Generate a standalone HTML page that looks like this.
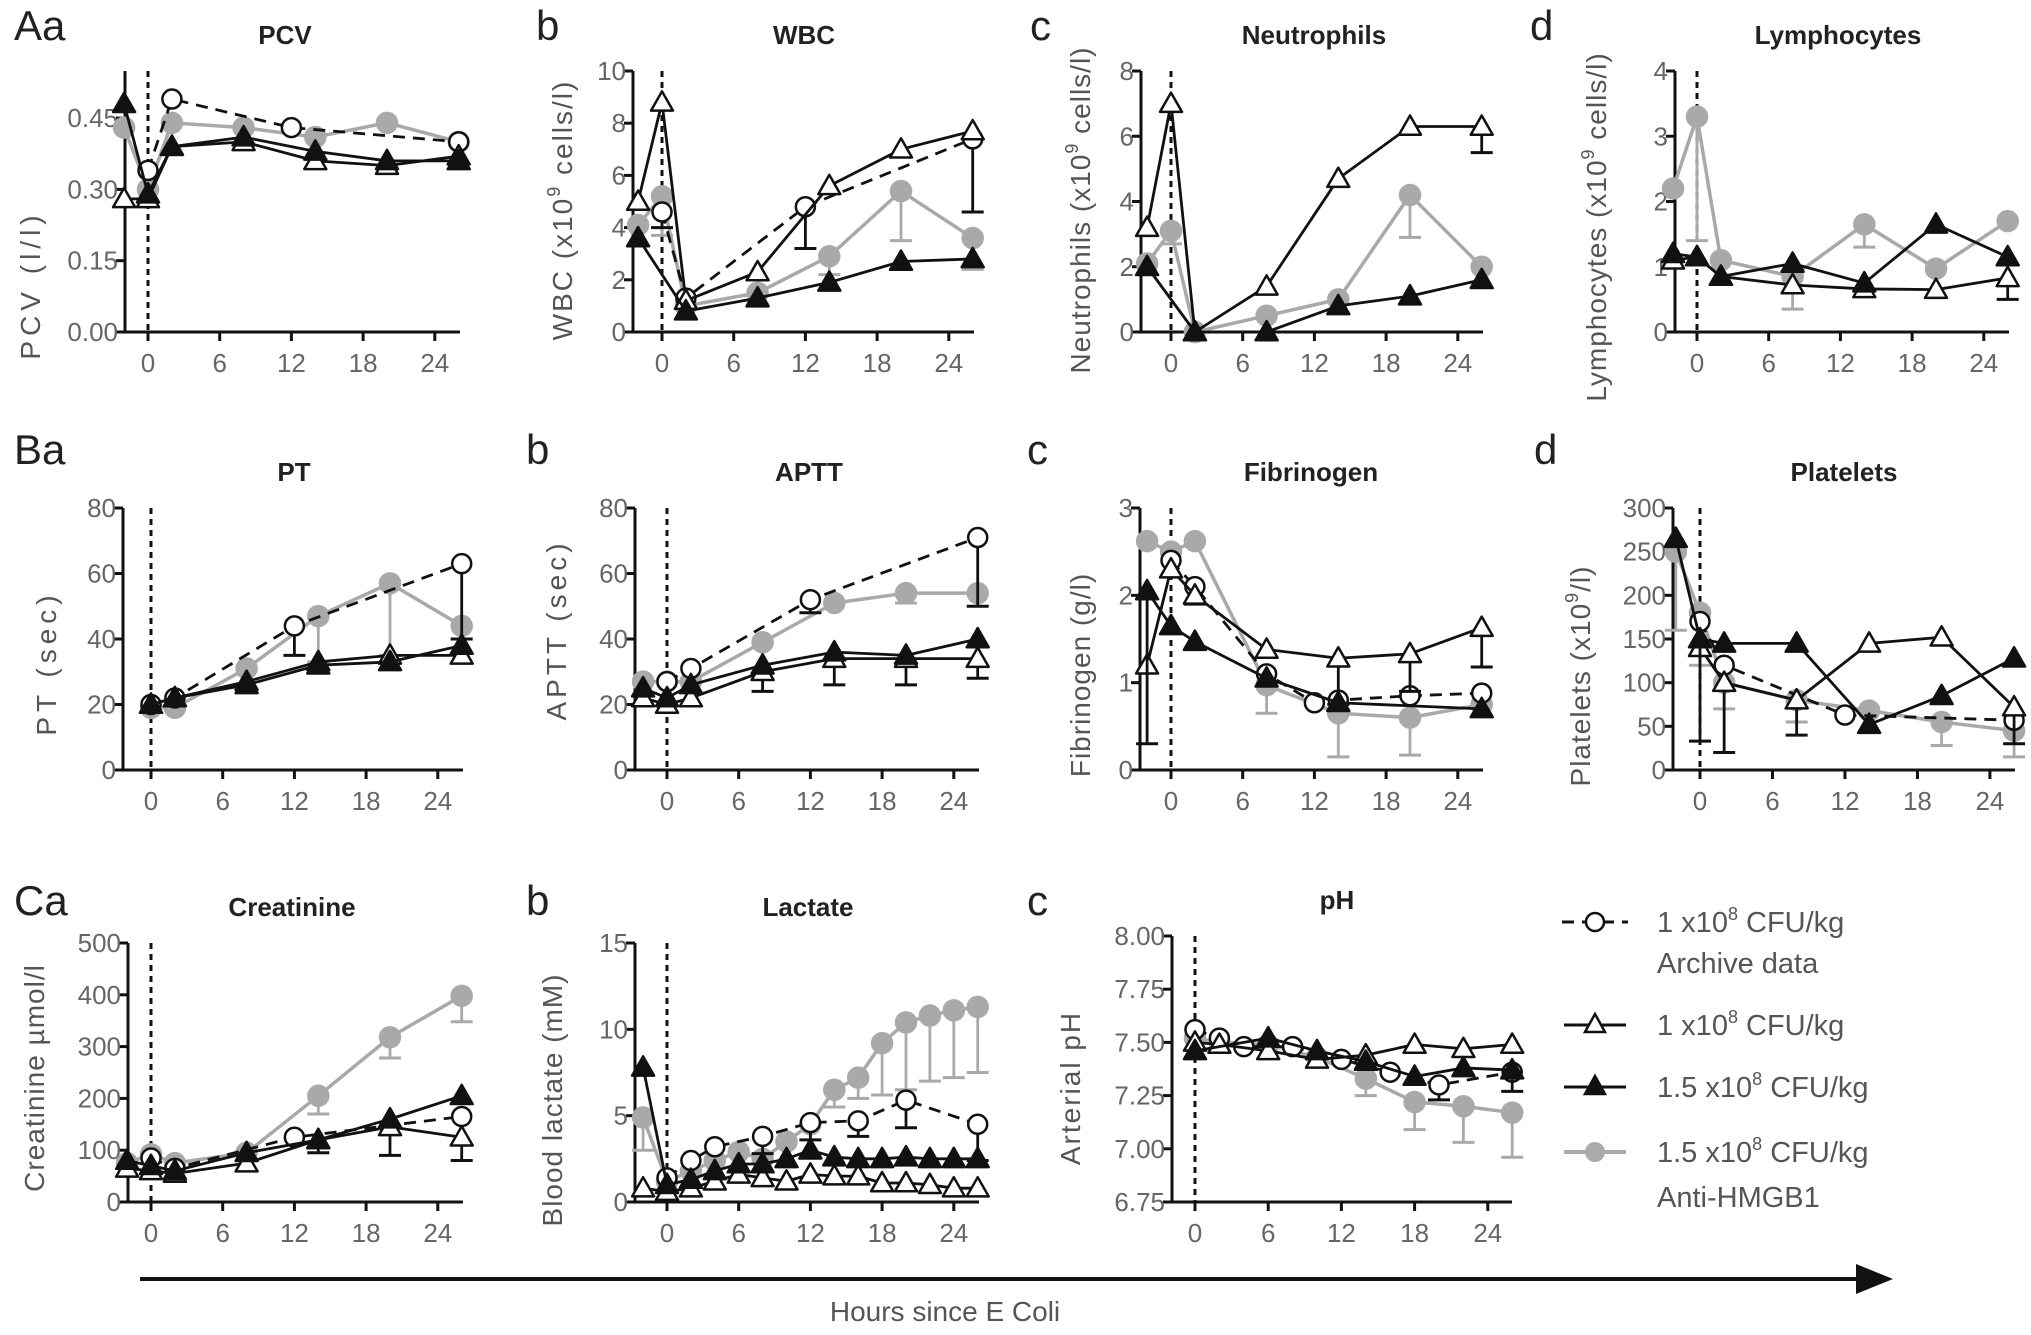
<!DOCTYPE html>
<html><head><meta charset="utf-8">
<style>
html,body{margin:0;padding:0;background:#fff;}
svg{display:block;font-family:"Liberation Sans",Arial,sans-serif;}
</style></head>
<body>
<svg id="fig" width="2031" height="1335" viewBox="0 0 2031 1335" xmlns="http://www.w3.org/2000/svg">
<g fill="#222" font-size="42">
<text x="14" y="40">Aa</text>
<text x="536" y="40">b</text>
<text x="1030" y="40">c</text>
<text x="1530" y="40">d</text>
<text x="14" y="464">Ba</text>
<text x="526" y="464">b</text>
<text x="1027" y="464">c</text>
<text x="1534" y="464">d</text>
<text x="14" y="915">Ca</text>
<text x="526" y="915">b</text>
<text x="1027" y="915">c</text>
</g>
<g font-size="29" fill="#555">
<g>
<line x1="1562" y1="922" x2="1628" y2="922" stroke="#111" stroke-width="3" stroke-dasharray="12 8"/>
<circle cx="1595" cy="922" r="9" fill="#fff" stroke="#111" stroke-width="2.5"/>
<text x="1657" y="932">1 x10<tspan font-size="18" dy="-12">8</tspan><tspan dy="12"> CFU/kg</tspan></text>
<text x="1657" y="973">Archive data</text></g>
<g>
<line x1="1564" y1="1025" x2="1626" y2="1025" stroke="#111" stroke-width="3"/>
<path d="M1595,1014 L1605,1032 L1585,1032 Z" fill="#fff" stroke="#111" stroke-width="2.5"/>
<text x="1657" y="1035">1 x10<tspan font-size="18" dy="-12">8</tspan><tspan dy="12"> CFU/kg</tspan></text></g>
<g>
<line x1="1564" y1="1087" x2="1626" y2="1087" stroke="#111" stroke-width="3"/>
<path d="M1595,1076 L1605,1094 L1585,1094 Z" fill="#111" stroke="#111" stroke-width="2.5"/>
<text x="1657" y="1097">1.5 x10<tspan font-size="18" dy="-12">8</tspan><tspan dy="12"> CFU/kg</tspan></text></g>
<g>
<line x1="1564" y1="1152" x2="1626" y2="1152" stroke="#aaa" stroke-width="4"/>
<circle cx="1595" cy="1152" r="10" fill="#aaa"/>
<text x="1657" y="1162">1.5 x10<tspan font-size="18" dy="-12">8</tspan><tspan dy="12"> CFU/kg</tspan></text>
<text x="1657" y="1207">Anti-HMGB1</text></g>
</g>
<g>
<line x1="140" y1="1279" x2="1860" y2="1279" stroke="#111" stroke-width="4"/>
<path d="M1893,1279 L1856,1264 L1856,1294 Z" fill="#111"/>
</g>
<text x="945" y="1321" text-anchor="middle" font-size="28" fill="#555">Hours since E Coli</text>
<g id="plots"></g>
</svg>
<script>
const pcvArchive=[[0,0.34],[2,0.49],[12,0.43],[26,0.40]];
const pcvOpen=[[-2,0.28],[0,0.28],[2,0.39],[8,0.40],[14,0.36],[20,0.35],[26,0.37]];
const pcvFilled=[[-2,0.48],[0,0.29],[2,0.39],[8,0.41],[14,0.38],[20,0.36],[26,0.36]];
const pcvGray=[[-2,0.43],[0,0.30],[2,0.44],[8,0.43],[14,0.41],[20,0.44],[26,0.40]];

const wbcArchive=[[0,4.6],[2,1.3],[12,4.8],[26,7.4]];
const wbcArchiveErr=[[0,4.0],[12,3.2],[26,4.6]];
const wbcOpen=[[-2,5.0],[0,8.8],[2,1.2],[8,2.3],[14,5.6],[20,7.0],[26,7.7]];
const wbcFilled=[[-2,3.6],[2,0.8],[8,1.3],[14,1.9],[20,2.7],[26,2.8]];
const wbcGray=[[-2,4.1],[0,5.2],[2,1.0],[8,1.5],[14,2.9],[20,5.4],[26,3.6]];
const wbcGrayErr=[[0,3.7],[8,1.1],[14,2.2],[20,3.5],[26,2.4]];

const neuOpen=[[-2,3.2],[0,7.0],[2,0],[8,1.4],[14,4.7],[20,6.3],[26,6.3]];
const neuOpenErr=[[26,5.5]];
const neuFilled=[[-2,2.0],[2,0],[8,0],[14,0.8],[20,1.1],[26,1.6]];
const neuGray=[[-2,2.1],[0,3.1],[2,0],[8,0.5],[14,1.0],[20,4.2],[26,2.0]];
const neuGrayErr=[[0,2.7],[14,0.6],[20,2.9]];

const lymOpen=[[-2,1.1],[0,1.15],[2,0.85],[8,0.72],[14,0.66],[20,0.65],[26,0.83]];
const lymOpenErr=[[26,0.5]];
const lymFilled=[[-2,1.2],[0,1.15],[2,0.85],[8,1.05],[14,0.75],[20,1.65],[26,1.15]];
const lymGray=[[-2,2.2],[0,3.3],[2,1.1],[8,0.85],[14,1.65],[20,0.97],[26,1.7]];
const lymGrayErr=[[0,1.4],[8,0.35],[14,1.3]];

const ptArchive=[[0,20],[2,22],[12,44],[26,63]];
const ptArchiveErr=[[12,35],[26,40]];
const ptOpen=[[0,20],[2,22],[8,27],[14,33],[20,35],[26,35]];
const ptFilled=[[0,20],[2,22],[8,26],[14,32],[20,33],[26,38]];
const ptGray=[[0,19],[2,19],[8,31],[14,47],[20,57],[26,44]];
const ptGrayErr=[[14,33],[20,35]];

const apttArchive=[[0,27],[2,31],[12,52],[26,71]];
const apttArchiveErr=[[12,48],[26,50]];
const apttOpen=[[-2,22],[0,20],[2,22],[8,30],[14,34],[20,34],[26,34]];
const apttOpenErr=[[8,24],[14,26],[20,26],[26,28]];
const apttFilled=[[-2,25],[0,22],[2,26],[8,32],[14,36],[20,35],[26,40]];
const apttGray=[[-2,27],[0,27],[2,27],[8,39],[14,51],[20,54],[26,54]];
const apttGrayErr=[[20,51]];

const fibArchive=[[0,2.4],[2,2.1],[8,1.1],[12,0.77],[14,0.8],[20,0.85],[26,0.88]];
const fibArchiveErr=[[2,1.9],[20,0.85]];
const fibOpen=[[-2,1.2],[0,2.3],[2,2.0],[8,1.38],[14,1.28],[20,1.33],[26,1.63]];
const fibOpenErr=[[14,0.75],[20,0.9],[26,1.18]];
const fibFilled=[[-2,2.05],[0,1.65],[2,1.47],[8,1.05],[14,0.77],[26,0.7]];
const fibFilledErr=[[-2,0.3]];
const fibGray=[[-2,2.62],[0,2.5],[2,2.62],[8,0.97],[14,0.65],[20,0.6],[26,0.75]];
const fibGrayErr=[[8,0.65],[14,0.15],[20,0.17]];

const pltArchive=[[0,170],[2,120],[12,63],[26,57]];
const pltOpen=[[0,140],[2,100],[8,80],[14,145],[20,152],[26,72]];
const pltOpenErr=[[2,20],[8,40],[26,30]];
const pltFilled=[[-2,265],[0,150],[2,145],[8,145],[14,52],[20,85],[26,128]];
const pltFilledErr=[[0,33]];
const pltGray=[[-2,250],[0,180],[2,100],[8,80],[14,68],[20,55],[26,45]];
const pltGrayErr=[[-2,160],[0,120],[2,70],[8,55],[20,28],[26,15]];

const creArchive=[[0,85],[2,65],[12,125],[26,165]];
const creOpen=[[-2,65],[0,60],[2,55],[8,75],[14,120],[20,145],[26,125]];
const creOpenErr=[[14,95],[20,90],[26,80]];
const creFilled=[[-2,80],[0,70],[2,60],[8,95],[14,120],[20,160],[26,205]];
const creGray=[[-2,75],[0,92],[2,75],[8,95],[14,205],[20,318],[26,398]];
const creGrayErr=[[14,170],[20,278],[26,348]];

const lacArchive=[[0,1.4],[2,2.4],[4,3.2],[8,3.8],[12,4.6],[16,4.7],[20,5.9],[26,4.5]];
const lacArchiveErr=[[8,2.8],[12,3.6],[16,3.8],[20,4.3],[26,2.4]];
const lacOpen=[[-2,0.8],[0,0.6],[2,0.8],[4,1.2],[6,1.6],[8,1.4],[10,1.2],[12,1.6],[14,1.5],[16,1.5],[18,1.1],[20,1.1],[22,1.0],[24,0.8],[26,0.8]];
const lacFilled=[[-2,7.8],[0,1.0],[2,1.3],[4,1.8],[6,2.2],[8,2.2],[10,2.5],[12,3.0],[14,2.6],[16,2.5],[18,2.5],[20,2.6],[22,2.5],[24,2.5],[26,2.5]];
const lacGray=[[-2,4.9],[0,1.2],[2,1.8],[4,2.4],[6,2.9],[8,2.5],[10,3.5],[12,4.5],[14,6.5],[16,7.2],[18,9.2],[20,10.4],[22,10.8],[24,11.1],[26,11.3]];
const lacGrayErr=[[-2,3.0],[14,5.5],[16,6.0],[18,6.2],[20,6.5],[22,7.0],[24,7.2],[26,7.5]];

const phArchive=[[0,7.56],[2,7.52],[4,7.48],[8,7.48],[12,7.42],[16,7.36],[20,7.30],[26,7.36]];
const phArchiveErr=[[20,7.23]];
const phOpen=[[0,7.50],[2,7.49],[6,7.46],[10,7.42],[14,7.44],[18,7.49],[22,7.47],[26,7.49]];
const phFilled=[[0,7.46],[6,7.52],[10,7.46],[14,7.41],[18,7.34],[22,7.38],[26,7.37]];
const phFilledErr=[[26,7.27]];
const phGray=[[0,7.52],[2,7.50],[6,7.49],[10,7.43],[14,7.33],[18,7.22],[22,7.20],[26,7.17]];
const phGrayErr=[[14,7.25],[18,7.09],[22,7.03],[26,6.96]];

const xTickValues=[0,6,12,18,24];
const pcvTicks=[0,0.15,0.30,0.45], pcvTickLabels=['0.00','0.15','0.30','0.45'];
const wbcTicks=[0,2,4,6,8,10];
const neuTicks=[0,2,4,6,8];
const lymTicks=[0,1,2,3,4];
const ptTicks=[0,20,40,60,80];
const fibTicks=[0,1,2,3];
const pltTicks=[0,50,100,150,200,250,300];
const creTicks=[0,100,200,300,400,500];
const lacTicks=[0,5,10,15];
const phTicks=[6.75,7.00,7.25,7.50,7.75,8.00], phTickLabels=['6.75','7.00','7.25','7.50','7.75','8.00'];

const NS='http://www.w3.org/2000/svg';
const root=document.getElementById('plots');
function mk(tag,attrs,parent){const e=document.createElementNS(NS,tag);for(const k in attrs)e.setAttribute(k,attrs[k]);(parent||root).appendChild(e);return e;}
const STY={
 gray:{stroke:'#a9a9a9',w:3.5,dash:null,marker:'circle',fill:'#a9a9a9',mstroke:'#a9a9a9'},
 archive:{stroke:'#111',w:2.8,dash:'12 8',marker:'circle',fill:'#fff',mstroke:'#111'},
 open:{stroke:'#111',w:2.8,dash:null,marker:'tri',fill:'#fff',mstroke:'#111'},
 filled:{stroke:'#111',w:2.8,dash:null,marker:'tri',fill:'#111',mstroke:'#111'}
};
function drawPanel(p){
 const g=mk('g',{});
 
 
 const ppx=p.pxPerHour||11.95;
 const X=t=>p.x0+t*ppx;
 const Y=v=>p.yb-(v-p.ymin)/(p.ymax-p.ymin)*(p.yb-p.yt);
 const left=p.x0-(p.leftOff||26), right=p.x0+(p.rightOff||312);
 const t=mk('text',{x:p.tx,y:p.yt-27,'text-anchor':'middle','font-size':26,'font-weight':'bold',fill:'#222'},g);
 t.textContent=p.title;
 
 
 const yl=mk('text',{x:0,y:0,'text-anchor':'middle','font-size':28,'letter-spacing':p.ls||0,fill:'#555',transform:`translate(${p.ylx},${p.yly}) rotate(-90)`},g);
 
 
 yl.innerHTML=p.ylabel;
 const dl=mk('line',{x1:X(0),x2:X(0),y1:p.yt,y2:p.yb,stroke:'#111','stroke-width':3,'stroke-dasharray':'6 5'},g);
 
 
 const ya=mk('line',{x1:left,x2:left,y1:p.yt,y2:p.yb+1.5,stroke:'#111','stroke-width':3},g);
 
 
 const xa=mk('line',{x1:left-1.5,x2:right,y1:p.yb,y2:p.yb,stroke:'#111','stroke-width':3},g);
 
 
 p.yticks.forEach((v,i)=>{
  mk('line',{x1:left-9,x2:left,y1:Y(v),y2:Y(v),stroke:'#111','stroke-width':3},g);
  const tl=mk('text',{x:left-7,y:Y(v)+9,'text-anchor':'end','font-size':26,fill:'#666'},g);
  
  
  tl.textContent=p.ylabels?p.ylabels[i]:String(v);
 });
 xTickValues.forEach(v=>{
  mk('line',{x1:X(v),x2:X(v),y1:p.yb,y2:p.yb+9,stroke:'#111','stroke-width':3},g);
  const tl=mk('text',{x:X(v),y:p.yb+40,'text-anchor':'middle','font-size':26,fill:'#666'},g);
  
  
  tl.textContent=String(v);
 });
 p.series.forEach(s=>{
  const st=STY[s.type];
  const sg=mk('g',{},g);
  
  
  (s.err||[]).forEach(e=>{
   const pt=s.pts.find(q=>q[0]===e[0]);if(!pt)return;
   mk('line',{x1:X(e[0]),x2:X(e[0]),y1:Y(pt[1]),y2:Y(e[1]),stroke:st.stroke,'stroke-width':2.8},sg);
   mk('line',{x1:X(e[0])-11,x2:X(e[0])+11,y1:Y(e[1]),y2:Y(e[1]),stroke:st.stroke,'stroke-width':3},sg);
  });
  const ln=mk('polyline',{points:s.pts.map(q=>X(q[0])+','+Y(q[1])).join(' '),fill:'none',stroke:st.stroke,'stroke-width':st.w,'stroke-linejoin':'round'},sg);
  if(st.dash)ln.setAttribute('stroke-dasharray',st.dash);
  
  
  s.pts.forEach(q=>{
   const cx=X(q[0]),cy=Y(q[1]);let m;
   if(st.marker==='circle'){m=mk('circle',{cx:cx,cy:cy,r:s.type==='gray'?10:9.5,fill:st.fill,stroke:st.mstroke,'stroke-width':2.5},sg);}
   else{const r=11;m=mk('path',{d:`M${cx},${cy-r} L${cx+r},${cy+r*0.75} L${cx-r},${cy+r*0.75} Z`,fill:st.fill,stroke:st.mstroke,'stroke-width':2.5,'stroke-linejoin':'round'},sg);}
   
   
  });
 });
}
const sup='<tspan font-size="18" dy="-12">9</tspan><tspan dy="12">';
const panels=[
 {name:'pcv',title:'PCV',tx:285,x0:148,yb:332,yt:71,ymin:0,ymax:0.549,yticks:pcvTicks,ylabels:pcvTickLabels,ylx:40,yly:285,ls:5,leftOff:23,ylabel:'PCV (l/l)',
  series:[{type:'gray',pts:pcvGray},{type:'archive',pts:pcvArchive},{type:'open',pts:pcvOpen},{type:'filled',pts:pcvFilled}]},
 {name:'wbc',title:'WBC',tx:804,x0:662,yb:332,yt:71,ymin:0,ymax:10,yticks:wbcTicks,ylx:572,yly:210,ls:2,leftOff:29,ylabel:'WBC (x10'+sup+' cells/l)</tspan>',
  series:[{type:'gray',pts:wbcGray,err:wbcGrayErr},{type:'archive',pts:wbcArchive,err:wbcArchiveErr},{type:'open',pts:wbcOpen},{type:'filled',pts:wbcFilled}]},
 {name:'neutrophils',title:'Neutrophils',tx:1314,x0:1171,yb:332,yt:71,ymin:0,ymax:8,yticks:neuTicks,ylx:1090,yly:210,ls:1,leftOff:30,ylabel:'Neutrophils (x10'+sup+' cells/l)</tspan>',
  series:[{type:'gray',pts:neuGray,err:neuGrayErr},{type:'open',pts:neuOpen,err:neuOpenErr},{type:'filled',pts:neuFilled}]},
 {name:'lymphocytes',title:'Lymphocytes',tx:1838,x0:1697,yb:332,yt:71,ymin:0,ymax:4,yticks:lymTicks,ylx:1606,yly:227,ls:1,leftOff:22,ylabel:'Lymphocytes (x10'+sup+' cells/l)</tspan>',
  series:[{type:'gray',pts:lymGray,err:lymGrayErr},{type:'open',pts:lymOpen,err:lymOpenErr},{type:'filled',pts:lymFilled}]},
 {name:'pt',title:'PT',tx:294,x0:151,yb:770,yt:508,ymin:0,ymax:80,yticks:ptTicks,ylx:56,yly:663,ls:5,leftOff:28,ylabel:'PT (sec)',
  series:[{type:'gray',pts:ptGray,err:ptGrayErr},{type:'archive',pts:ptArchive,err:ptArchiveErr},{type:'open',pts:ptOpen},{type:'filled',pts:ptFilled}]},
 {name:'aptt',title:'APTT',tx:809,x0:667,yb:770,yt:508,ymin:0,ymax:80,yticks:ptTicks,ylx:566,yly:630,ls:4,leftOff:32,ylabel:'APTT (sec)',
  series:[{type:'gray',pts:apttGray,err:apttGrayErr},{type:'archive',pts:apttArchive,err:apttArchiveErr},{type:'open',pts:apttOpen,err:apttOpenErr},{type:'filled',pts:apttFilled}]},
 {name:'fibrinogen',title:'Fibrinogen',tx:1311,x0:1171,yb:770,yt:508,ymin:0,ymax:3,yticks:fibTicks,ylx:1090,yly:675,ls:1,leftOff:31,ylabel:'Fibrinogen (g/l)',
  series:[{type:'gray',pts:fibGray,err:fibGrayErr},{type:'archive',pts:fibArchive,err:fibArchiveErr},{type:'open',pts:fibOpen,err:fibOpenErr},{type:'filled',pts:fibFilled,err:fibFilledErr}]},
 {name:'platelets',title:'Platelets',tx:1844,x0:1700,yb:770,yt:508,ymin:0,ymax:300,yticks:pltTicks,pxPerHour:12.08,ylx:1590,yly:676,ls:1,leftOff:27,rightOff:315,ylabel:'Platelets (x10'+sup+'/l)</tspan>',
  series:[{type:'gray',pts:pltGray,err:pltGrayErr},{type:'archive',pts:pltArchive},{type:'open',pts:pltOpen,err:pltOpenErr},{type:'filled',pts:pltFilled,err:pltFilledErr}]},
 {name:'creatinine',title:'Creatinine',tx:292,x0:151,yb:1202,yt:943,ymin:0,ymax:500,yticks:creTicks,ylx:44,yly:1078,ls:1,leftOff:23,ylabel:'Creatinine µmol/l',
  series:[{type:'gray',pts:creGray,err:creGrayErr},{type:'archive',pts:creArchive},{type:'open',pts:creOpen,err:creOpenErr},{type:'filled',pts:creFilled}]},
 {name:'lactate',title:'Lactate',tx:808,x0:667,yb:1202,yt:943,ymin:0,ymax:15,yticks:lacTicks,ylx:562,yly:1100,ls:1,leftOff:32,ylabel:'Blood lactate (mM)',
  series:[{type:'gray',pts:lacGray,err:lacGrayErr},{type:'archive',pts:lacArchive,err:lacArchiveErr},{type:'open',pts:lacOpen},{type:'filled',pts:lacFilled}]},
 {name:'ph',title:'pH',tx:1337,x0:1195,yb:1202,yt:936,ymin:6.75,ymax:8.0,yticks:phTicks,ylabels:phTickLabels,pxPerHour:12.2,ylx:1080,yly:1088,ls:2,leftOff:23,rightOff:317,ylabel:'Arterial pH',
  series:[{type:'gray',pts:phGray,err:phGrayErr},{type:'archive',pts:phArchive,err:phArchiveErr},{type:'open',pts:phOpen},{type:'filled',pts:phFilled,err:phFilledErr}]}
];
panels.forEach(drawPanel);
</script>
</body></html>
